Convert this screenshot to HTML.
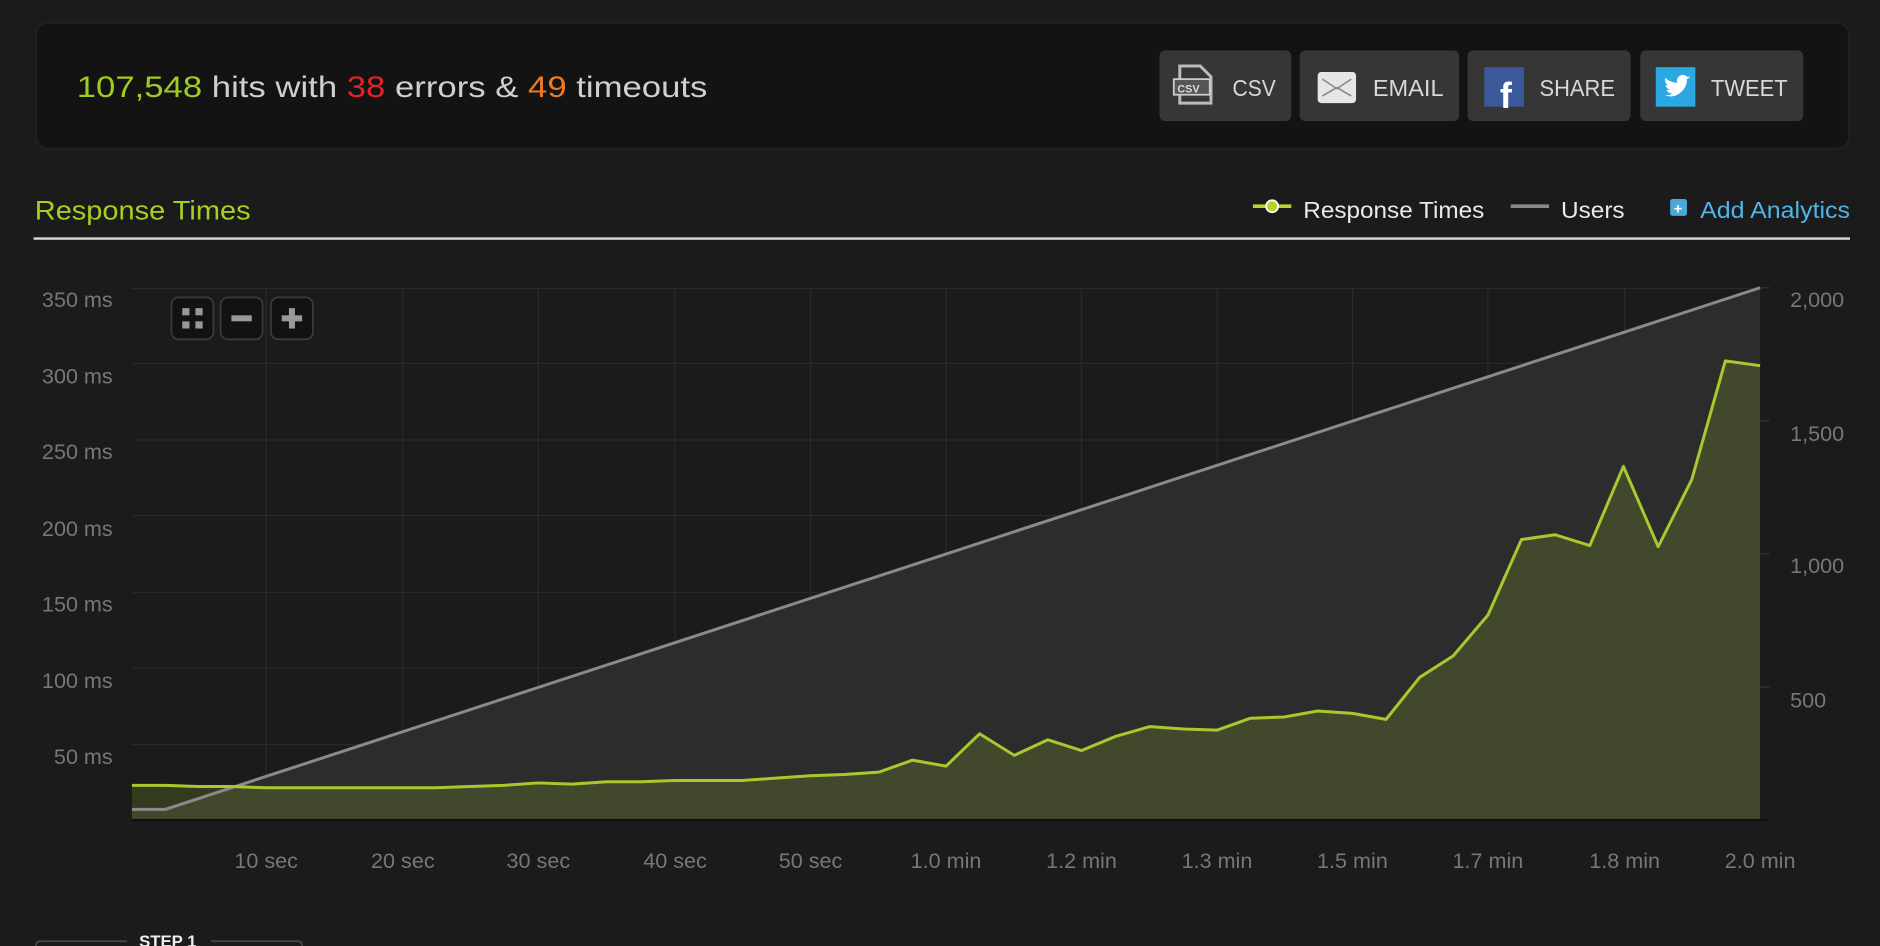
<!DOCTYPE html>
<html><head><meta charset="utf-8"><style>
html,body{margin:0;padding:0;background:#1b1b1b;overflow:hidden}
svg{display:block}
text{font-family:"Liberation Sans",sans-serif}
</style></head><body>
<svg width="1880" height="946" viewBox="0 0 1568 789" preserveAspectRatio="none" xmlns="http://www.w3.org/2000/svg">
<rect width="1568" height="789" fill="#1b1b1b"/>
<!-- top panel -->
<rect x="30" y="19" width="1512" height="105" rx="10" fill="#131313" stroke="#222" stroke-width="1.5"/>
<text x="64" y="81" font-size="25" fill="#cfcfcf" textLength="526" lengthAdjust="spacingAndGlyphs"><tspan fill="#9fcc22">107,548</tspan> hits with <tspan fill="#e3222b">38</tspan> errors &amp; <tspan fill="#f07a23">49</tspan> timeouts</text>
<!-- buttons -->
<g font-size="19" fill="#d8d8d8">
<rect x="967" y="42" width="110" height="59" rx="5" fill="#363636"/>
<path d="M984 55 h17 l9 9 v22 h-26z" fill="none" stroke="#bbb" stroke-width="2.5"/>
<rect x="979" y="66" width="30" height="13" fill="#555" stroke="#ccc" stroke-width="1.5"/>
<text x="982" y="77" font-size="9" font-weight="bold" fill="#ddd">CSV</text>
<text x="1028" y="80" textLength="36" lengthAdjust="spacingAndGlyphs">CSV</text>
<rect x="1084" y="42" width="133" height="59" rx="5" fill="#363636"/>
<rect x="1099" y="60" width="32" height="26" rx="3" fill="#e6e6e6"/>
<path d="M1103 66 l12 8 l12 -8 M1103 80 l12 -7 l12 7" fill="none" stroke="#888" stroke-width="1.3"/>
<text x="1145" y="80" textLength="59" lengthAdjust="spacingAndGlyphs">EMAIL</text>
<rect x="1224" y="42" width="136" height="59" rx="5" fill="#363636"/>
<rect x="1238" y="56" width="33" height="33" fill="#3b5998"/>
<text x="1251" y="90" font-size="30" font-weight="bold" fill="#fff">f</text>
<text x="1284" y="80" textLength="63" lengthAdjust="spacingAndGlyphs">SHARE</text>
<rect x="1368" y="42" width="136" height="59" rx="5" fill="#363636"/>
<rect x="1381" y="56" width="33" height="33" fill="#2ba7e1"/>
<path d="M1388 79 q8 4 15 -3 q4 -4 4 -10 l3 -2 l-3 0 q-3 -3 -7 0 q-2 2 -1 5 q-6 0 -10 -4 q-1 4 2 6 l-2 0 q1 3 4 4 l-3 0 q1 3 5 3 q-3 2 -7 1z" fill="#fff"/>
<text x="1427" y="80" textLength="64" lengthAdjust="spacingAndGlyphs">TWEET</text>
</g>
<!-- section header -->
<text x="29" y="183" font-size="22" fill="#a4d024" textLength="180" lengthAdjust="spacingAndGlyphs">Response Times</text>
<line x1="28" y1="199" x2="1543" y2="199" stroke="#dcdcdc" stroke-width="2"/>
<line x1="1045" y1="172" x2="1077" y2="172" stroke="#b4d62a" stroke-width="3"/>
<circle cx="1061" cy="172" r="5" fill="#b4d62a" stroke="#fff" stroke-width="1.5"/>
<text x="1087" y="182" font-size="19" fill="#eaeaea" textLength="151" lengthAdjust="spacingAndGlyphs">Response Times</text>
<line x1="1260" y1="172" x2="1292" y2="172" stroke="#8a8a8a" stroke-width="3"/>
<text x="1302" y="182" font-size="19" fill="#eaeaea" textLength="53" lengthAdjust="spacingAndGlyphs">Users</text>
<rect x="1393" y="166" width="14" height="14" rx="2" fill="#4aa7d8"/>
<text x="1396" y="178" font-size="12" fill="#fff" font-weight="bold">+</text>
<text x="1418" y="182" font-size="19" fill="#52b3e8" textLength="125" lengthAdjust="spacingAndGlyphs">Add Analytics</text>
<!-- plot -->
<rect x="110" y="240" width="1358" height="444" fill="#1b1b1b"/>
<g stroke="#2a2a2a" stroke-width="1">
<line x1="110" y1="240.5" x2="1468" y2="240.5"/>
<line x1="110" y1="303" x2="1468" y2="303"/>
<line x1="110" y1="367" x2="1468" y2="367"/>
<line x1="110" y1="430" x2="1468" y2="430"/>
<line x1="110" y1="494" x2="1468" y2="494"/>
<line x1="110" y1="557" x2="1468" y2="557"/>
<line x1="110" y1="621" x2="1468" y2="621"/>
<line x1="222" y1="240" x2="222" y2="684"/><line x1="336" y1="240" x2="336" y2="684"/>
<line x1="449" y1="240" x2="449" y2="684"/><line x1="563" y1="240" x2="563" y2="684"/>
<line x1="676" y1="240" x2="676" y2="684"/><line x1="789" y1="240" x2="789" y2="684"/>
<line x1="902" y1="240" x2="902" y2="684"/><line x1="1015" y1="240" x2="1015" y2="684"/>
<line x1="1128" y1="240" x2="1128" y2="684"/><line x1="1241" y1="240" x2="1241" y2="684"/>
<line x1="1355" y1="240" x2="1355" y2="684"/>
</g>
<polygon points="110,675 138,675 1468,240 1468,684 110,684" fill="#2c2c2c"/>
<polygon points="110,655 138,655 165,656 193,656 222,657 250,657 278,657 307,657 336,657 364,657 392,656 420,655 449,653 477,654 506,652 534,652 563,651 591,651 619,651 647,649 676,647 704,646 733,644 761,634 789,639 817,612 846,630 874,617 902,626 931,614 959,606 987,608 1015,609 1043,599 1071,598 1099,593 1128,595 1156,600 1184,565 1212,547 1241,513 1269,450 1297,446 1326,455 1354,389 1383,456 1411,400 1439,301 1468,305 1468,684 110,684" fill="#a8c92e" fill-opacity="0.18"/>
<polyline points="110,675 138,675 1468,240" fill="none" stroke="#8a8a8a" stroke-width="2.5"/>
<polyline points="110,655 138,655 165,656 193,656 222,657 250,657 278,657 307,657 336,657 364,657 392,656 420,655 449,653 477,654 506,652 534,652 563,651 591,651 619,651 647,649 676,647 704,646 733,644 761,634 789,639 817,612 846,630 874,617 902,626 931,614 959,606 987,608 1015,609 1043,599 1071,598 1099,593 1128,595 1156,600 1184,565 1212,547 1241,513 1269,450 1297,446 1326,455 1354,389 1383,456 1411,400 1439,301 1468,305" fill="none" stroke="#a8c92e" stroke-width="2.5" stroke-linejoin="round"/>
<line x1="110" y1="684" x2="1475" y2="684" stroke="#111" stroke-width="2"/>
<g stroke="#333"><line x1="1468" y1="240" x2="1476" y2="240"/><line x1="1468" y1="351" x2="1476" y2="351"/><line x1="1468" y1="462" x2="1476" y2="462"/><line x1="1468" y1="573" x2="1476" y2="573"/></g>
<!-- zoom buttons -->
<g fill="#121212" stroke="#3a3a3a" stroke-width="1.5">
<rect x="143" y="248" width="35" height="35" rx="6"/><rect x="184" y="248" width="35" height="35" rx="6"/><rect x="226" y="248" width="35" height="35" rx="6"/>
</g>
<g fill="#999">
<rect x="152" y="257" width="6" height="6"/><rect x="163" y="257" width="6" height="6"/><rect x="152" y="268" width="6" height="6"/><rect x="163" y="268" width="6" height="6"/>
<rect x="193" y="263" width="17" height="5"/>
<rect x="235" y="263" width="17" height="5"/><rect x="241" y="257" width="5" height="17"/>
</g>
<!-- y labels -->
<g font-size="18" fill="#777" text-anchor="end">
<text x="94" y="256">350 ms</text><text x="94" y="320">300 ms</text><text x="94" y="383">250 ms</text>
<text x="94" y="447">200 ms</text><text x="94" y="510">150 ms</text><text x="94" y="574">100 ms</text><text x="94" y="637">50 ms</text>
</g>
<g font-size="18" fill="#777">
<text x="1493" y="256">2,000</text><text x="1493" y="368">1,500</text><text x="1493" y="478">1,000</text><text x="1493" y="590">500</text>
</g>
<g font-size="18" fill="#777" text-anchor="middle">
<text x="222" y="724">10 sec</text><text x="336" y="724">20 sec</text><text x="449" y="724">30 sec</text>
<text x="563" y="724">40 sec</text><text x="676" y="724">50 sec</text><text x="789" y="724">1.0 min</text>
<text x="902" y="724">1.2 min</text><text x="1015" y="724">1.3 min</text><text x="1128" y="724">1.5 min</text>
<text x="1241" y="724">1.7 min</text><text x="1355" y="724">1.8 min</text><text x="1468" y="724">2.0 min</text>
</g>
<!-- step -->
<path d="M30 795 v-6 q0 -4 4 -4 h72 M176 785 h72 q4 0 4 4 v6" fill="none" stroke="#444" stroke-width="1.5"/>
<text x="116" y="790" font-size="14" font-weight="bold" fill="#eee">STEP 1</text>
</svg>
</body></html>
